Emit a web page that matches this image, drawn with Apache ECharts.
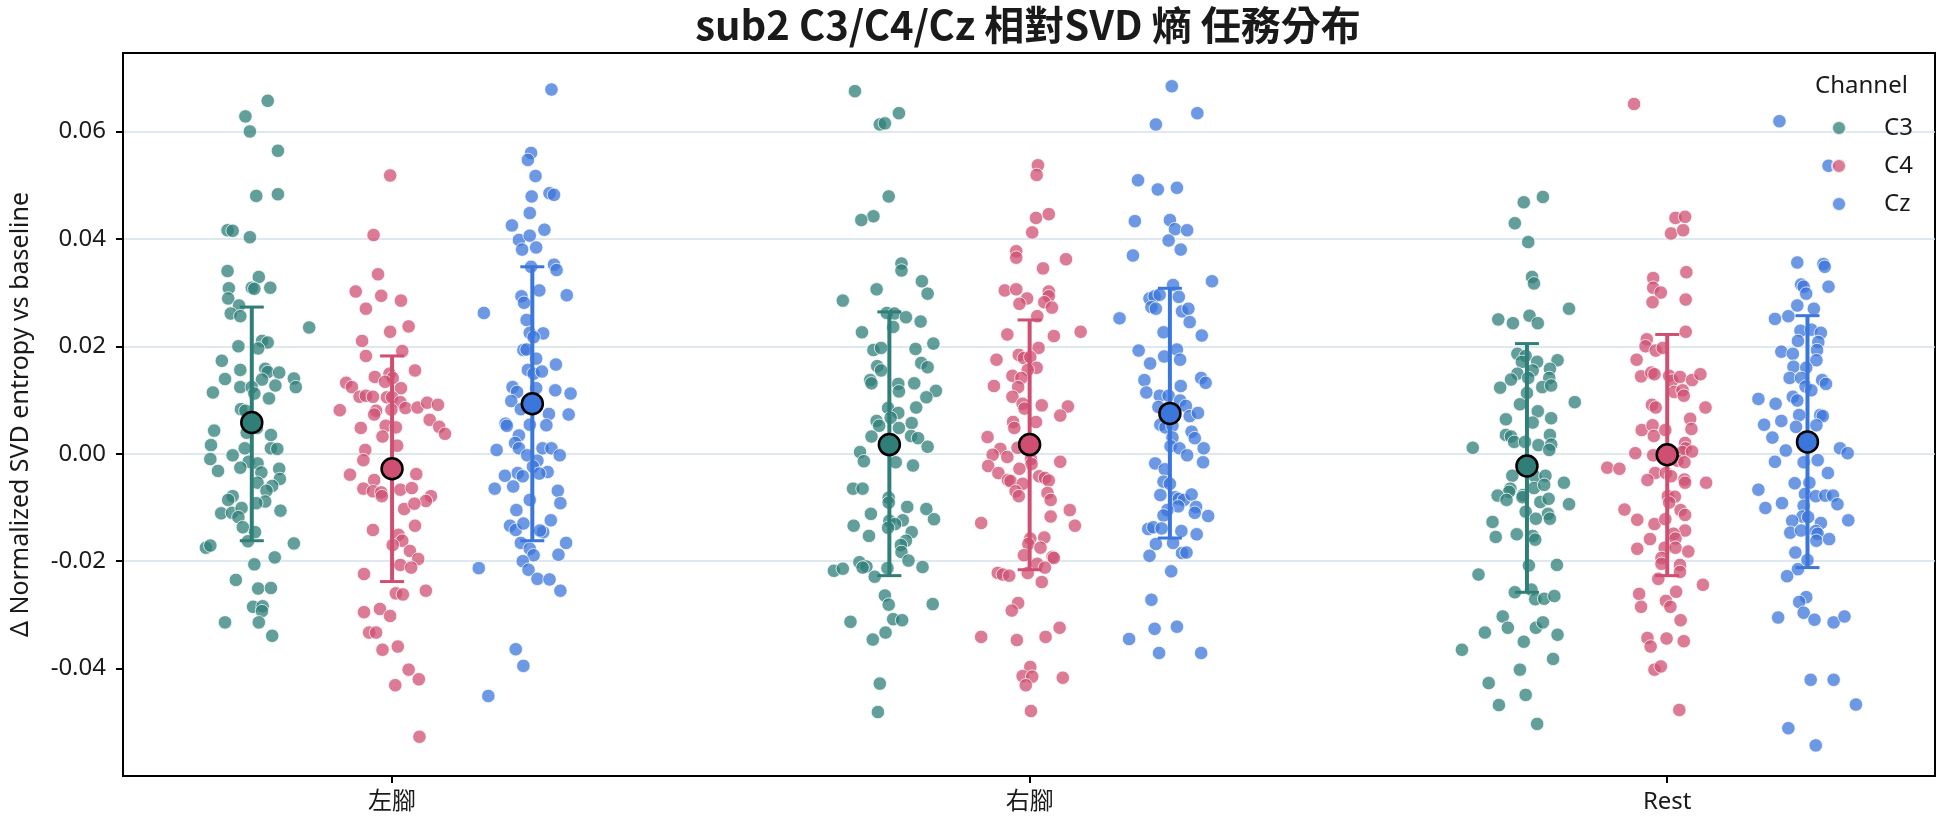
<!DOCTYPE html>
<html>
<head>
<meta charset="utf-8">
<title>sub2 C3/C4/Cz 相對SVD 熵 任務分布</title>
<script src="https://cdn.jsdelivr.net/npm/echarts@6.0.0/dist/echarts.min.js"></script>
<style>
  html, body { margin: 0; padding: 0; background: #fff; }
  #chart { width: 1944px; height: 827px; }
</style>
</head>
<body>
<div id="chart"></div>
<script>
// 類別與通道
const categories = ['左腳', '右腳', 'Rest']
const channels = ['C3', 'C4', 'Cz']
const yTicks = [-0.04, -0.02, 0.00, 0.02, 0.04, 0.06]

// 每個點: [jitter, value]
const c3Left = [[0.025,0.0657],[-0.010,0.0628],[-0.003,0.0600],[0.041,0.0564],[0.007,0.0480],[0.041,0.0483],[-0.038,0.0416],[-0.030,0.0415],[-0.003,0.0403],[-0.038,0.0340],[0.011,0.0329],[-0.036,0.0308],[0.000,0.0309],[0.004,0.0307],[0.029,0.0309],[-0.037,0.0289],[-0.020,0.0276],[-0.033,0.0261],[-0.018,0.0256],[0.090,0.0235],[0.016,0.0210],[0.025,0.0207],[-0.021,0.0200],[0.010,0.0196],[-0.047,0.0173],[-0.018,0.0156],[0.021,0.0158],[0.025,0.0152],[0.043,0.0151],[-0.042,0.0139],[0.016,0.0138],[0.066,0.0140],[0.037,0.0127],[0.069,0.0124],[-0.061,0.0114],[-0.018,0.0124],[0.000,0.0124],[0.004,0.0112],[0.027,0.0103],[-0.017,0.0083],[-0.010,0.0080],[0.008,0.0048],[-0.059,0.0043],[-0.008,0.0039],[0.030,0.0035],[-0.064,0.0016],[0.030,0.0010],[0.040,0.0009],[-0.011,0.0010],[-0.030,-0.0003],[-0.065,-0.0010],[-0.005,-0.0015],[0.009,-0.0018],[-0.018,-0.0026],[0.043,-0.0028],[-0.053,-0.0032],[0.015,-0.0035],[0.044,-0.0047],[0.032,-0.0060],[0.009,-0.0054],[0.023,-0.0069],[-0.030,-0.0079],[-0.037,-0.0086],[0.021,-0.0089],[0.007,-0.0092],[0.045,-0.0106],[-0.048,-0.0111],[-0.031,-0.0110],[-0.016,-0.0101],[-0.021,-0.0118],[-0.014,-0.0137],[0.005,-0.0146],[-0.006,-0.0163],[-0.072,-0.0175],[-0.065,-0.0171],[0.066,-0.0167],[0.036,-0.0193],[0.004,-0.0206],[-0.025,-0.0235],[0.010,-0.0251],[0.030,-0.0250],[0.002,-0.0285],[0.017,-0.0284],[0.016,-0.0293],[-0.042,-0.0314],[0.011,-0.0314],[0.032,-0.0339]]
const c4Left = [[-0.003,0.0518],[-0.029,0.0407],[-0.022,0.0334],[-0.057,0.0302],[-0.017,0.0294],[0.014,0.0285],[-0.041,0.0270],[0.026,0.0237],[-0.003,0.0227],[-0.047,0.0210],[0.016,0.0191],[-0.041,0.0182],[0.036,0.0155],[-0.004,0.0149],[-0.027,0.0143],[0.001,0.0141],[-0.072,0.0132],[-0.063,0.0124],[-0.011,0.0134],[0.014,0.0122],[-0.051,0.0106],[-0.041,0.0108],[-0.030,0.0106],[-0.008,0.0105],[0.000,0.0105],[0.013,0.0096],[0.021,0.0085],[0.040,0.0086],[0.055,0.0095],[0.072,0.0091],[-0.082,0.0081],[-0.025,0.0080],[-0.028,0.0073],[-0.001,0.0082],[0.059,0.0063],[0.074,0.0050],[0.083,0.0037],[-0.049,0.0048],[-0.010,0.0052],[0.006,0.0049],[-0.015,0.0032],[0.008,0.0015],[-0.042,0.0007],[-0.045,-0.0012],[-0.066,-0.0039],[0.038,-0.0038],[-0.028,-0.0049],[-0.045,-0.0065],[-0.030,-0.0070],[-0.017,-0.0072],[0.013,-0.0067],[0.031,-0.0064],[-0.016,-0.0079],[0.061,-0.0079],[0.053,-0.0088],[0.019,-0.0103],[0.035,-0.0093],[0.036,-0.0134],[-0.030,-0.0142],[0.010,-0.0151],[0.016,-0.0162],[0.001,-0.0170],[0.028,-0.0181],[0.041,-0.0196],[0.013,-0.0207],[0.030,-0.0212],[-0.044,-0.0224],[0.006,-0.0260],[0.017,-0.0262],[0.053,-0.0255],[-0.019,-0.0289],[-0.044,-0.0295],[-0.003,-0.0302],[-0.036,-0.0333],[-0.025,-0.0333],[-0.015,-0.0365],[0.009,-0.0359],[0.026,-0.0402],[0.042,-0.0420],[0.005,-0.0431],[0.043,-0.0527],[-0.022,-0.0605]]
const czLeft = [[0.030,0.0678],[-0.002,0.0560],[-0.007,0.0547],[0.005,0.0517],[0.027,0.0485],[0.034,0.0482],[-0.001,0.0479],[-0.004,0.0448],[-0.032,0.0425],[0.019,0.0417],[-0.021,0.0398],[-0.004,0.0406],[0.006,0.0384],[-0.016,0.0380],[0.034,0.0352],[0.038,0.0342],[-0.002,0.0348],[0.011,0.0304],[0.054,0.0295],[-0.017,0.0293],[-0.013,0.0281],[-0.076,0.0262],[-0.009,0.0249],[-0.004,0.0225],[0.017,0.0224],[0.002,0.0217],[-0.014,0.0193],[-0.009,0.0194],[0.006,0.0177],[0.037,0.0166],[-0.007,0.0156],[0.002,0.0149],[0.015,0.0153],[-0.031,0.0124],[-0.024,0.0115],[0.006,0.0122],[0.036,0.0118],[0.060,0.0112],[-0.033,0.0098],[-0.018,0.0083],[0.026,0.0074],[0.057,0.0073],[-0.042,0.0056],[-0.040,0.0052],[-0.004,0.0054],[0.022,0.0053],[-0.021,0.0034],[-0.027,0.0020],[-0.056,0.0007],[-0.021,0.0010],[0.016,0.0010],[0.030,0.0010],[-0.008,-0.0003],[0.043,-0.0003],[0.008,-0.0013],[0.001,-0.0024],[0.024,-0.0034],[-0.023,-0.0036],[0.011,-0.0037],[-0.015,-0.0042],[-0.043,-0.0041],[-0.059,-0.0065],[-0.030,-0.0061],[0.040,-0.0069],[0.044,-0.0092],[-0.004,-0.0086],[-0.025,-0.0105],[0.029,-0.0124],[-0.035,-0.0134],[-0.026,-0.0142],[-0.014,-0.0130],[0.017,-0.0146],[0.012,-0.0143],[0.053,-0.0166],[-0.018,-0.0166],[-0.004,-0.0177],[0.002,-0.0189],[0.041,-0.0188],[-0.015,-0.0200],[-0.084,-0.0213],[-0.006,-0.0216],[0.008,-0.0233],[0.027,-0.0234],[0.044,-0.0255],[-0.026,-0.0364],[-0.014,-0.0395],[-0.069,-0.0451]]
const c3Right = [[-0.054,0.0675],[0.015,0.0634],[-0.015,0.0613],[-0.007,0.0615],[-0.001,0.0479],[-0.025,0.0442],[-0.044,0.0435],[0.019,0.0354],[0.019,0.0341],[0.051,0.0321],[0.060,0.0298],[-0.020,0.0306],[-0.073,0.0285],[-0.004,0.0262],[0.008,0.0261],[0.026,0.0254],[0.049,0.0246],[0.006,0.0236],[-0.043,0.0226],[0.069,0.0205],[-0.025,0.0193],[-0.013,0.0197],[0.041,0.0195],[0.050,0.0169],[0.060,0.0161],[-0.019,0.0163],[-0.013,0.0155],[-0.030,0.0137],[-0.028,0.0131],[0.014,0.0130],[0.039,0.0131],[0.015,0.0116],[0.073,0.0117],[0.058,0.0105],[0.042,0.0086],[-0.002,0.0085],[0.014,0.0076],[0.002,0.0067],[-0.020,0.0061],[-0.016,0.0052],[0.035,0.0057],[0.015,0.0048],[-0.028,0.0032],[0.034,0.0033],[0.045,0.0029],[0.060,0.0013],[-0.046,0.0003],[-0.040,-0.0014],[0.010,-0.0016],[0.037,-0.0022],[-0.057,-0.0065],[-0.042,-0.0065],[-0.001,-0.0082],[-0.001,-0.0091],[0.028,-0.0099],[0.058,-0.0103],[-0.029,-0.0112],[0.021,-0.0124],[0.070,-0.0122],[0.000,-0.0125],[0.009,-0.0131],[-0.056,-0.0134],[-0.002,-0.0138],[0.035,-0.0146],[-0.032,-0.0153],[0.026,-0.0162],[0.018,-0.0170],[0.019,-0.0183],[0.030,-0.0199],[-0.047,-0.0202],[-0.036,-0.0210],[-0.087,-0.0218],[-0.073,-0.0214],[-0.042,-0.0212],[0.052,-0.0211],[-0.023,-0.0229],[-0.003,-0.0213],[-0.007,-0.0264],[-0.001,-0.0281],[0.068,-0.0280],[0.006,-0.0308],[0.020,-0.0310],[-0.061,-0.0313],[-0.006,-0.0333],[-0.026,-0.0346],[-0.015,-0.0428],[-0.018,-0.0481],[-0.007,-0.0602]]
const c4Right = [[0.013,0.0537],[0.011,0.0519],[0.010,0.0439],[0.030,0.0446],[0.004,0.0412],[-0.021,0.0377],[-0.021,0.0365],[0.057,0.0362],[0.021,0.0345],[-0.039,0.0304],[-0.021,0.0306],[-0.004,0.0289],[-0.016,0.0279],[0.030,0.0302],[0.030,0.0293],[0.023,0.0282],[0.035,0.0272],[0.012,0.0256],[-0.035,0.0222],[0.038,0.0219],[0.080,0.0227],[-0.052,0.0175],[-0.017,0.0184],[0.014,0.0197],[-0.009,0.0178],[0.001,0.0180],[0.011,0.0160],[-0.003,0.0156],[-0.027,0.0145],[-0.013,0.0141],[-0.056,0.0126],[-0.018,0.0124],[-0.027,0.0106],[-0.011,0.0093],[-0.008,0.0084],[0.019,0.0090],[0.060,0.0088],[0.048,0.0071],[-0.026,0.0059],[-0.024,0.0048],[0.010,0.0059],[-0.066,0.0031],[-0.019,0.0011],[-0.046,0.0009],[-0.058,-0.0002],[-0.035,-0.0006],[0.002,-0.0010],[0.003,-0.0019],[-0.065,-0.0023],[0.048,-0.0015],[-0.016,-0.0028],[-0.049,-0.0036],[0.015,-0.0042],[0.024,-0.0045],[0.030,-0.0050],[-0.034,-0.0049],[-0.030,-0.0051],[-0.011,-0.0056],[-0.022,-0.0070],[0.028,-0.0073],[-0.017,-0.0079],[0.033,-0.0086],[0.063,-0.0105],[0.033,-0.0117],[-0.076,-0.0129],[0.071,-0.0134],[0.023,-0.0156],[0.001,-0.0158],[-0.002,-0.0168],[0.017,-0.0175],[-0.009,-0.0189],[0.036,-0.0192],[0.038,-0.0194],[0.012,-0.0205],[0.024,-0.0212],[-0.003,-0.0222],[-0.050,-0.0222],[-0.042,-0.0225],[-0.032,-0.0227],[0.019,-0.0239],[-0.018,-0.0278],[-0.028,-0.0292],[-0.076,-0.0341],[-0.020,-0.0347],[0.025,-0.0341],[0.047,-0.0324],[0.001,-0.0397],[-0.011,-0.0414],[0.004,-0.0415],[-0.006,-0.0431],[0.052,-0.0417],[0.002,-0.0479]]
const czRight = [[0.003,0.0684],[0.043,0.0634],[-0.022,0.0613],[-0.050,0.0509],[-0.019,0.0492],[0.011,0.0495],[-0.055,0.0433],[0.000,0.0435],[0.008,0.0418],[0.027,0.0416],[-0.002,0.0397],[0.017,0.0380],[-0.058,0.0369],[0.066,0.0321],[0.005,0.0314],[-0.032,0.0289],[-0.024,0.0293],[-0.016,0.0296],[0.014,0.0292],[-0.029,0.0273],[-0.022,0.0270],[0.019,0.0265],[0.029,0.0270],[-0.079,0.0252],[0.031,0.0245],[0.050,0.0220],[-0.010,0.0226],[-0.049,0.0192],[0.011,0.0194],[-0.009,0.0181],[0.016,0.0175],[-0.031,0.0168],[-0.040,0.0137],[0.049,0.0141],[0.056,0.0132],[-0.037,0.0114],[0.017,0.0126],[-0.016,0.0108],[-0.002,0.0108],[0.016,0.0099],[0.025,0.0089],[-0.018,0.0087],[0.031,0.0070],[0.044,0.0076],[-0.015,0.0054],[-0.007,0.0049],[0.004,0.0052],[0.034,0.0041],[0.039,0.0029],[0.004,0.0030],[0.001,0.0014],[0.015,0.0010],[0.027,-0.0003],[0.053,0.0010],[0.052,-0.0016],[-0.023,-0.0018],[-0.008,-0.0029],[-0.010,-0.0052],[0.000,-0.0056],[-0.015,-0.0077],[0.008,-0.0081],[0.014,-0.0084],[0.022,-0.0086],[0.034,-0.0076],[0.013,-0.0098],[0.041,-0.0099],[-0.004,-0.0105],[0.039,-0.0110],[0.060,-0.0116],[-0.010,-0.0115],[-0.034,-0.0140],[-0.026,-0.0137],[-0.013,-0.0139],[0.018,-0.0144],[0.042,-0.0150],[-0.022,-0.0168],[0.005,-0.0166],[0.019,-0.0185],[0.026,-0.0184],[-0.032,-0.0190],[0.002,-0.0219],[-0.029,-0.0272],[-0.024,-0.0326],[0.011,-0.0322],[-0.064,-0.0345],[-0.017,-0.0371],[0.049,-0.0371]]
const c3Rest = [[0.025,0.0478],[-0.005,0.0468],[-0.019,0.0429],[0.002,0.0394],[0.008,0.0329],[0.011,0.0317],[0.066,0.0270],[-0.045,0.0250],[-0.022,0.0243],[0.004,0.0257],[0.017,0.0243],[-0.015,0.0186],[-0.002,0.0182],[-0.008,0.0171],[0.016,0.0171],[0.048,0.0174],[0.036,0.0158],[0.009,0.0155],[-0.015,0.0149],[-0.025,0.0138],[0.002,0.0141],[0.035,0.0141],[-0.042,0.0123],[0.024,0.0124],[0.038,0.0127],[0.000,0.0113],[0.075,0.0096],[-0.011,0.0092],[0.017,0.0079],[-0.033,0.0064],[0.038,0.0066],[0.009,0.0058],[-0.033,0.0035],[-0.025,0.0032],[0.036,0.0035],[-0.020,0.0022],[-0.003,0.0022],[0.018,0.0016],[0.038,0.0017],[0.035,0.0007],[-0.085,0.0011],[-0.023,-0.0041],[0.013,-0.0043],[0.029,-0.0041],[-0.026,-0.0065],[-0.028,-0.0071],[-0.046,-0.0078],[-0.032,-0.0086],[-0.006,-0.0077],[0.011,-0.0064],[0.027,-0.0058],[0.058,-0.0054],[-0.007,-0.0081],[0.021,-0.0090],[0.034,-0.0084],[0.066,-0.0094],[-0.002,-0.0108],[0.033,-0.0112],[0.036,-0.0121],[0.014,-0.0121],[-0.054,-0.0127],[-0.049,-0.0155],[-0.016,-0.0150],[0.009,-0.0153],[0.013,-0.0160],[0.003,-0.0208],[0.047,-0.0207],[-0.076,-0.0225],[-0.019,-0.0258],[0.007,-0.0253],[0.013,-0.0271],[0.027,-0.0270],[0.043,-0.0265],[-0.038,-0.0303],[-0.030,-0.0324],[-0.066,-0.0333],[0.014,-0.0324],[0.025,-0.0314],[0.048,-0.0337],[-0.005,-0.0350],[-0.102,-0.0365],[0.041,-0.0382],[-0.011,-0.0402],[-0.060,-0.0427],[-0.002,-0.0449],[-0.044,-0.0468],[0.016,-0.0503]]
const c4Rest = [[-0.052,0.0651],[0.013,0.0439],[0.028,0.0441],[0.006,0.0410],[0.025,0.0416],[0.030,0.0338],[-0.022,0.0327],[-0.022,0.0309],[-0.010,0.0300],[-0.023,0.0282],[0.029,0.0287],[0.029,0.0227],[-0.032,0.0213],[-0.034,0.0200],[-0.018,0.0192],[-0.007,0.0197],[-0.048,0.0175],[-0.041,0.0144],[-0.025,0.0151],[-0.020,0.0148],[0.003,0.0145],[0.008,0.0136],[0.020,0.0143],[0.039,0.0137],[0.052,0.0148],[0.011,0.0115],[0.024,0.0118],[0.026,0.0108],[-0.024,0.0091],[-0.018,0.0086],[0.060,0.0086],[0.036,0.0065],[-0.040,0.0044],[-0.023,0.0053],[-0.021,0.0033],[-0.003,0.0044],[0.038,0.0046],[0.028,0.0020],[0.029,0.0010],[-0.050,0.0001],[-0.022,-0.0003],[0.024,0.0003],[0.039,0.0004],[0.016,-0.0013],[0.027,-0.0016],[-0.094,-0.0026],[-0.075,-0.0028],[-0.019,-0.0036],[-0.031,-0.0049],[-0.002,-0.0036],[0.006,-0.0042],[0.027,-0.0048],[0.028,-0.0054],[0.061,-0.0054],[0.001,-0.0079],[0.012,-0.0080],[0.003,-0.0091],[-0.067,-0.0104],[0.021,-0.0105],[0.028,-0.0114],[-0.047,-0.0123],[-0.020,-0.0131],[-0.003,-0.0122],[0.028,-0.0143],[0.010,-0.0149],[0.013,-0.0158],[-0.027,-0.0159],[-0.047,-0.0177],[-0.004,-0.0175],[0.013,-0.0175],[0.033,-0.0182],[-0.009,-0.0194],[-0.009,-0.0205],[0.020,-0.0207],[0.020,-0.0220],[-0.014,-0.0233],[0.056,-0.0244],[-0.044,-0.0261],[0.014,-0.0257],[-0.041,-0.0285],[-0.002,-0.0274],[0.005,-0.0285],[0.021,-0.0310],[-0.031,-0.0343],[-0.026,-0.0359],[-0.001,-0.0344],[0.026,-0.0349],[-0.020,-0.0402],[-0.010,-0.0396],[0.019,-0.0477]]
const czRest = [[-0.044,0.0619],[0.033,0.0536],[-0.016,0.0356],[0.025,0.0353],[0.027,0.0348],[-0.010,0.0315],[-0.006,0.0311],[0.033,0.0311],[-0.002,0.0298],[-0.016,0.0276],[0.010,0.0270],[-0.051,0.0251],[-0.030,0.0256],[-0.011,0.0229],[0.006,0.0231],[0.021,0.0225],[-0.015,0.0210],[0.017,0.0208],[0.015,0.0193],[-0.041,0.0190],[-0.023,0.0186],[0.014,0.0174],[-0.022,0.0162],[-0.002,0.0160],[-0.028,0.0141],[-0.010,0.0141],[0.023,0.0137],[0.029,0.0130],[-0.003,0.0125],[0.006,0.0118],[-0.023,0.0106],[-0.016,0.0099],[-0.077,0.0102],[-0.050,0.0093],[-0.013,0.0072],[0.020,0.0072],[0.024,0.0070],[-0.041,0.0061],[-0.068,0.0054],[-0.018,0.0050],[0.014,0.0053],[-0.055,0.0030],[-0.034,0.0006],[0.051,0.0010],[0.063,0.0001],[-0.051,-0.0015],[-0.006,-0.0016],[0.016,-0.0012],[0.032,-0.0036],[-0.020,-0.0055],[0.003,-0.0054],[-0.077,-0.0067],[-0.004,-0.0075],[0.013,-0.0079],[0.028,-0.0078],[0.040,-0.0078],[-0.066,-0.0101],[-0.040,-0.0092],[-0.006,-0.0097],[0.047,-0.0094],[-0.008,-0.0117],[0.001,-0.0118],[-0.024,-0.0125],[0.021,-0.0129],[0.064,-0.0124],[-0.027,-0.0147],[-0.010,-0.0143],[0.013,-0.0144],[0.016,-0.0149],[0.014,-0.0162],[0.034,-0.0159],[-0.019,-0.0184],[0.000,-0.0198],[-0.015,-0.0215],[-0.032,-0.0228],[-0.002,-0.0267],[-0.013,-0.0276],[-0.006,-0.0296],[-0.046,-0.0305],[0.011,-0.0309],[0.041,-0.0314],[0.058,-0.0303],[0.005,-0.0421],[0.041,-0.0421],[0.076,-0.0467],[-0.030,-0.0511],[0.013,-0.0543]]

// 平均值與誤差線 (依類別順序: 左腳, 右腳, Rest)
const meanC3 = [0.0058, 0.0017, -0.0023]
const meanC4 = [-0.0028, 0.0017, -0.0002]
const meanCz = [0.0093, 0.0075, 0.0022]
const upperC3 = [0.0273, 0.0264, 0.0205]
const upperC4 = [0.0182, 0.0249, 0.0222]
const upperCz = [0.0348, 0.0308, 0.0257]
const lowerC3 = [-0.0162, -0.0227, -0.0258]
const lowerC4 = [-0.0238, -0.0216, -0.0227]
const lowerCz = [-0.0162, -0.0157, -0.0212]

const points = { C3: [c3Left, c3Right, c3Rest], C4: [c4Left, c4Right, c4Rest], Cz: [czLeft, czRight, czRest] }
const means = { C3: meanC3, C4: meanC4, Cz: meanCz }
const uppers = { C3: upperC3, C4: upperC4, Cz: upperCz }
const lowers = { C3: lowerC3, C4: lowerC4, Cz: lowerCz }

const colors = { C3: '#2f7f78', C4: '#cf4f72', Cz: '#3b76db' }
const dodge = { C3: -0.22, C4: 0, Cz: 0.22 }
const fontLatin = "'Noto Sans', 'Noto Sans CJK TC', sans-serif"
const textColor = '#1a1a1a'

const chart = echarts.init(document.getElementById('chart'), null, { renderer: 'canvas' })

const series = []

// 散點
channels.forEach(ch => {
  const data = []
  points[ch].forEach((arr, ci) => {
    arr.forEach(p => data.push([ci + dodge[ch] + p[0], p[1]]))
  })
  series.push({
    name: ch,
    type: 'scatter',
    data: data,
    symbolSize: 13.5,
    z: 2,
    itemStyle: {
      color: colors[ch],
      opacity: 0.75,
      borderColor: '#fff',
      borderWidth: 1
    },
    emphasis: { disabled: true }
  })
})

// 誤差線
channels.forEach(ch => {
  const data = categories.map((c, ci) => [ci + dodge[ch], lowers[ch][ci], uppers[ch][ci]])
  series.push({
    name: ch + ' sd',
    type: 'custom',
    z: 3,
    silent: true,
    encode: { x: 0, y: [1, 2] },
    data: data,
    renderItem: function (params, api) {
      const x = api.value(0)
      const top = api.coord([x, api.value(2)])
      const bot = api.coord([x, api.value(1)])
      const hw = 12
      return {
        type: 'group',
        children: [
          { type: 'line', shape: { x1: top[0], y1: top[1], x2: bot[0], y2: bot[1] }, style: { stroke: colors[ch], lineWidth: 4 } },
          { type: 'line', shape: { x1: top[0] - hw, y1: top[1], x2: top[0] + hw, y2: top[1] }, style: { stroke: colors[ch], lineWidth: 3 } },
          { type: 'line', shape: { x1: bot[0] - hw, y1: bot[1], x2: bot[0] + hw, y2: bot[1] }, style: { stroke: colors[ch], lineWidth: 3 } }
        ]
      }
    }
  })
})

// 平均值
channels.forEach(ch => {
  series.push({
    name: ch + ' mean',
    type: 'scatter',
    z: 4,
    silent: true,
    data: categories.map((c, ci) => [ci + dodge[ch], means[ch][ci]]),
    symbolSize: 21,
    itemStyle: {
      color: colors[ch],
      opacity: 1,
      borderColor: '#000',
      borderWidth: 2.5
    }
  })
})

const option = {
  animation: false,
  backgroundColor: '#fff',
  title: [
    {
      text: 'sub2 C3/C4/Cz 相對SVD 熵 任務分布',
      left: 1028,
      top: 5,
      textAlign: 'center',
      padding: 0,
      textStyle: {
        fontFamily: "'Noto Sans CJK TC', sans-serif",
        fontSize: 40,
        fontWeight: 'bold',
        color: textColor
      }
    },
    {
      text: 'Channel',
      left: 1815,
      top: 74,
      padding: 0,
      textStyle: {
        fontFamily: fontLatin,
        fontSize: 24,
        fontWeight: 'normal',
        color: textColor
      }
    }
  ],
  legend: {
    data: channels,
    orient: 'vertical',
    left: 1831,
    top: 116,
    padding: 0,
    itemWidth: 14,
    itemHeight: 14,
    itemGap: 14,
    icon: 'circle',
    selectedMode: false,
    textStyle: {
      fontFamily: fontLatin,
      fontSize: 24,
      lineHeight: 24,
      color: textColor,
      padding: [0, 0, 0, 33]
    }
  },
  grid: {
    left: 121,
    right: 9,
    top: 53,
    bottom: 51,
    show: true,
    borderColor: '#000',
    borderWidth: 2,
    backgroundColor: 'transparent'
  },
  xAxis: {
    type: 'value',
    min: -0.422,
    max: 2.42,
    splitLine: { show: false },
    axisLine: { show: true, onZero: false, lineStyle: { color: '#000', width: 2 } },
    axisTick: { show: true, customValues: [0, 1, 2], length: 7, lineStyle: { color: '#000', width: 2 } },
    axisLabel: {
      customValues: [0, 1, 2],
      formatter: v => categories[Math.round(v)],
      fontFamily: fontLatin,
      fontSize: 24,
      color: textColor,
      margin: 14
    }
  },
  yAxis: {
    type: 'value',
    min: -0.06,
    max: 0.0746,
    interval: 0.02,
    name: 'Δ Normalized SVD entropy vs baseline',
    nameLocation: 'middle',
    nameGap: 90,
    nameTextStyle: {
      fontFamily: fontLatin,
      fontSize: 25,
      color: textColor
    },
    axisLine: { show: true, onZero: false, lineStyle: { color: '#000', width: 2 } },
    axisTick: { show: true, customValues: yTicks, length: 7, lineStyle: { color: '#000', width: 2 } },
    axisLabel: {
      customValues: yTicks,
      formatter: v => (Math.abs(v) < 1e-9 ? 0 : v).toFixed(2),
      fontFamily: fontLatin,
      fontSize: 24,
      color: textColor,
      margin: 17
    },
    splitLine: {
      show: true,
      showMinLine: false,
      showMaxLine: true,
      lineStyle: { color: '#d6e0ea', width: 1.5 }
    }
  },
  series: series
}

chart.setOption(option)
</script>
</body>
</html>
